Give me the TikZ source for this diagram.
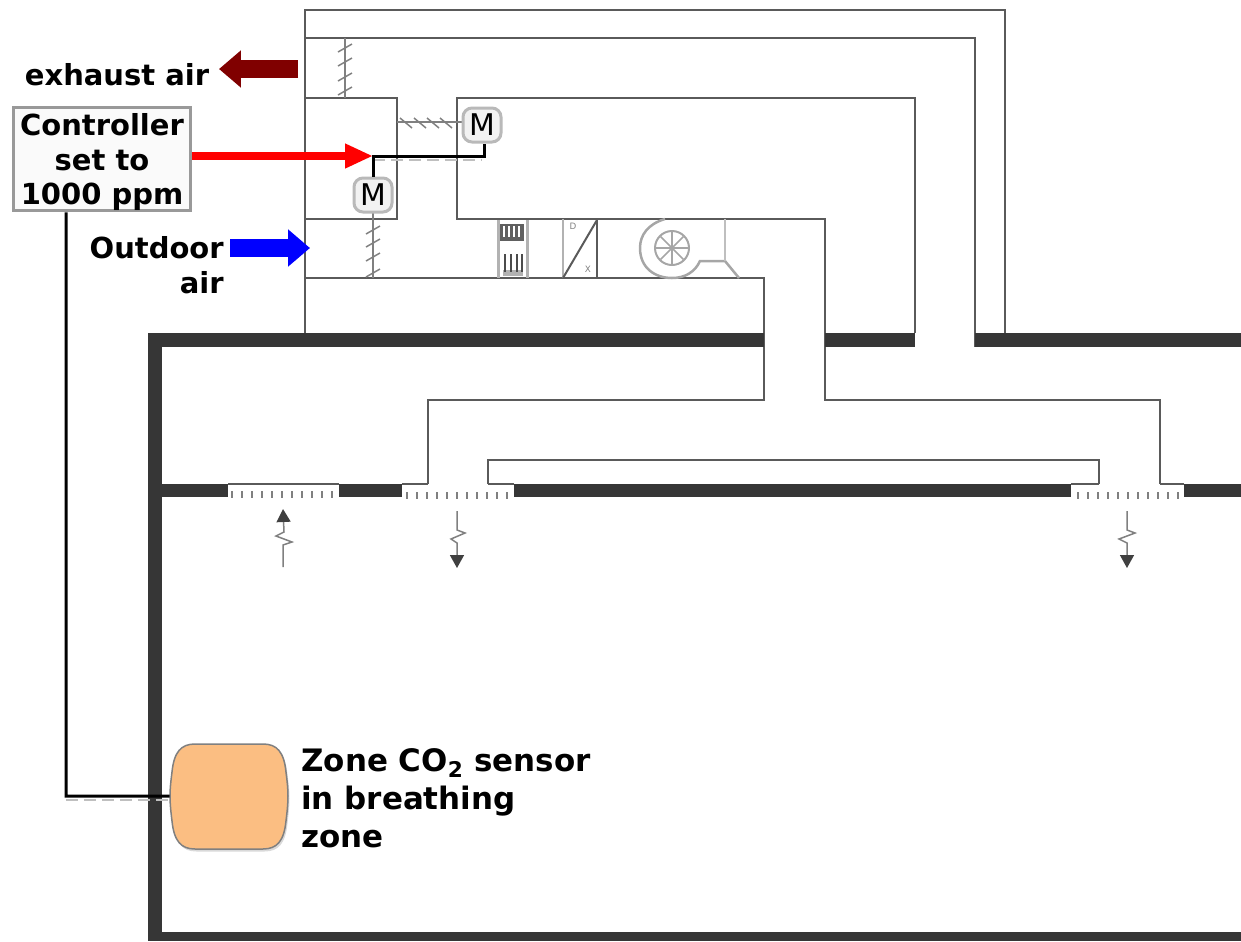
\documentclass[tikz,border=0pt]{standalone}
\usepackage{fontspec}
\setmainfont{DejaVu Sans}
\usetikzlibrary{positioning,arrows.meta,shadows}
\definecolor{ductgray}{HTML}{5A5A5A}
\definecolor{wallgray}{HTML}{363636}
\definecolor{sensororange}{HTML}{FBBE82}
\definecolor{exhaustred}{HTML}{800000}

\begin{document}
\begin{tikzpicture}[
  x=0.02cm,y=-0.02cm,
  every node/.style={inner sep=0pt},
  lbl/.style={font=\fontsize{16.5}{19.8}\selectfont\bfseries,align=center},
  ctrlbox/.style={lbl,draw=gray!80,fill=gray!4,line width=0.06cm,minimum width=3.54cm,minimum height=2.04cm},
  motor/.style={draw=gray!55,fill=gray!10,line width=0.06cm,rounded corners=0.18cm,minimum width=0.76cm,minimum height=0.68cm,
    font=\fontsize{17}{17}\selectfont},
  duct/.style={draw=ductgray,line width=0.04cm},
  damper/.style={draw=gray,line width=0.03cm},
  wall/.style={fill=wallgray},
  wire/.style={draw=black,line width=0.06cm},
  wireghost/.style={draw=gray!50,line width=0.04cm,dash pattern=on 0.24cm off 0.12cm},
  tick/.style={black!50,line width=0.05cm},
  flow/.style={draw=gray,line width=0.03cm,-{Triangle[color=black!75,length=0.26cm,width=0.28cm]}},
  bigarr/.style={line width=0.35cm,-{Triangle[length=0.44cm,width=0.72cm]}}
]
  \useasboundingbox (0,0) rectangle (1241,941);

  % ductwork
  \draw[duct] (305,333) -- (305,10) -- (1005,10) -- (1005,333);
  \draw[duct] (305,38) -- (975,38) -- (975,347);
  \draw[duct] (305,98) -- (397,98) -- (397,219) -- (305,219);
  \draw[duct] (915,333) -- (915,98) -- (457,98) -- (457,219) -- (825,219) -- (825,400)
    -- (1160,400) -- (1160,484);
  \draw[duct] (305,278) -- (764,278) -- (764,400) -- (428,400) -- (428,484);
  \draw[duct] (488,484) -- (488,460) -- (1099,460) -- (1099,484);

  % walls
  \foreach \a/\b in {148/764,825/915,975/1241}
    \fill[wall] (\a,333) rectangle (\b,347);
  \foreach \a/\b in {148/228,339/402,514/1071,1184/1241}
    \fill[wall] (\a,484) rectangle (\b,497);
  \fill[wall] (148,333) rectangle (162,941);
  \fill[wall] (148,932) rectangle (1241,941);

  % dampers
  \draw[damper] (345,38) -- (345,98);
  \foreach \y in {48,62,77,91}
    \draw[damper] (338,\y+4) -- (352,\y-4);
  \draw[damper] (373,213) -- (373,278);
  \foreach \y in {230,243,257,273}
    \draw[damper] (366,\y+4) -- (380,\y-4);
  \draw[damper] (397,122) -- (463,122);
  \foreach \x in {406,420,433,446}
    \draw[damper] (\x-6,118) -- (\x+6,128);

  % coil
  \draw[draw=gray!60,line width=0.06cm] (498,220) -- (498,278) (527,220) -- (527,278);
  \fill[gray!75!black] (500,224) rectangle (524,241);
  \foreach \x in {504,509,514,519}
    \draw[white,line width=0.03cm] (\x,226) -- (\x,237);
  \fill[gray!60] (503,270) rectangle (523,276);
  \foreach \x in {505,511,517,522}
    \draw[black!70,line width=0.05cm] (\x,254) -- (\x,272);

  % filter
  \draw[draw=gray!60,line width=0.04cm] (563,219) -- (563,278);
  \draw[duct] (597,219) -- (597,278);
  \draw[duct] (563,278) -- (597,220);
  \node[font=\fontsize{5}{5}\selectfont,text=gray] (filterd) at (573,226) {D};
  \node[font=\fontsize{5}{5}\selectfont,text=gray] (filterx) at (588,269) {X};

  % fan
  \draw[draw=gray!70,line width=0.05cm] (665,219) .. controls (648,224) and (640,235) .. (640,248)
    .. controls (640,268) and (655,278) .. (672,278) .. controls (685,278) and (695,272) .. (700,261)
    -- (725,261) -- (739,278);
  \draw[draw=gray!50,line width=0.04cm] (725,219) -- (725,261);
  \draw[draw=gray!70,line width=0.04cm] (672,248) circle (17);
  \foreach \t in {0,45,...,315}
    \draw[draw=gray!70,line width=0.03cm] (672,248) -- ++(\t:16);

  % grilles
  \foreach \x in {232,242,...,332}
    \draw[tick] (\x,491) -- (\x,498);
  \draw[duct,line width=0.03cm] (228,484) -- (339,484);
  \foreach \x in {407,417,...,507}
    \draw[tick] (\x,492) -- (\x,499);
  \foreach \x in {1078,1088,...,1178}
    \draw[tick] (\x,492) -- (\x,499);
  \draw[duct,line width=0.03cm] (402,484) -- (428,484) (488,484) -- (514,484);
  \draw[duct,line width=0.03cm] (1071,484) -- (1099,484) (1160,484) -- (1184,484);

  % air flow
  \draw[flow] (283,567) -- (283,545) -- (292,542) -- (276,536) -- (284,532) -- (283,509);
  \draw[flow] (457,511) -- (457,530) -- (465,533) -- (451,539) -- (457,543) -- (457,568);
  \draw[flow] (1127,511) -- (1127,530) -- (1135,533) -- (1119,539) -- (1127,543) -- (1127,568);

  % controls
  \node[ctrlbox] (ctrl) at (102,159) {\rule{0pt}{16pt}Controller\\set to\\1000 ppm};
  \node[motor] (motora) at (373,195) {M};
  \node[motor] (motorb) at (482,125) {M};
  \node[minimum width=2.36cm,minimum height=2.1cm] (zonesensor) at (229,796) {};
  \draw[draw=gray,fill=sensororange,line width=0.03cm,
    drop shadow={shadow xshift=0.03cm,shadow yshift=-0.05cm,opacity=0.3}]
    (195,744) -- (263,744) .. controls (277,744) and (284,752) .. (286,772)
    .. controls (287,780) and (288,788) .. (288,796) .. controls (288,804) and (287,813) .. (286,821)
    .. controls (284,841) and (277,849) .. (263,849) -- (195,849)
    .. controls (181,849) and (174,841) .. (172,821) .. controls (171,813) and (170,804) .. (170,796)
    .. controls (170,788) and (171,780) .. (172,772) .. controls (174,752) and (181,744) .. cycle;
  \coordinate (jct) at (373,156);
  \coordinate (exhaustend) at (298,69);
  \coordinate (exhausttip) at (219,69);
  \coordinate (outdoorend) at (230,248);
  \coordinate (outdoortip) at (310,248);
  \coordinate (wirecorner) at (66,796);
  \draw[wireghost] ([yshift=-0.07cm]jct) -- ([yshift=-0.07cm]jct -| motorb.south);
  \draw[wireghost] ([yshift=-0.07cm]wirecorner) -- ([yshift=-0.07cm]wirecorner -| zonesensor.west);
  \draw[wire] (motora.north) -- (jct) -| ([xshift=0.04cm]motorb.south);
  \draw[wire] ([xshift=-0.72cm]ctrl.south) -- (wirecorner) -- (zonesensor.west);
  \draw[bigarr,red,line width=0.15cm,-{Triangle[length=0.56cm,width=0.46cm]}] (ctrl.east |- jct) -- (jct);
  \draw[bigarr,exhaustred] (exhaustend) -- (exhausttip);
  \draw[bigarr,blue] (outdoorend) -- (outdoortip);

  % labels
  \node[lbl] (exhaustlbl) at (117,75) {exhaust air};
  \node[lbl,align=right,anchor=north east] (outdoorlbl) at (224,236) {Outdoor\\air};
  \node[lbl,font=\fontsize{17.6}{21.5}\selectfont\bfseries,align=left,anchor=west] (sensorlbl) at (301,798)
    {Zone CO\textsubscript{2} sensor\\in breathing\\zone};
\end{tikzpicture}
\end{document}
